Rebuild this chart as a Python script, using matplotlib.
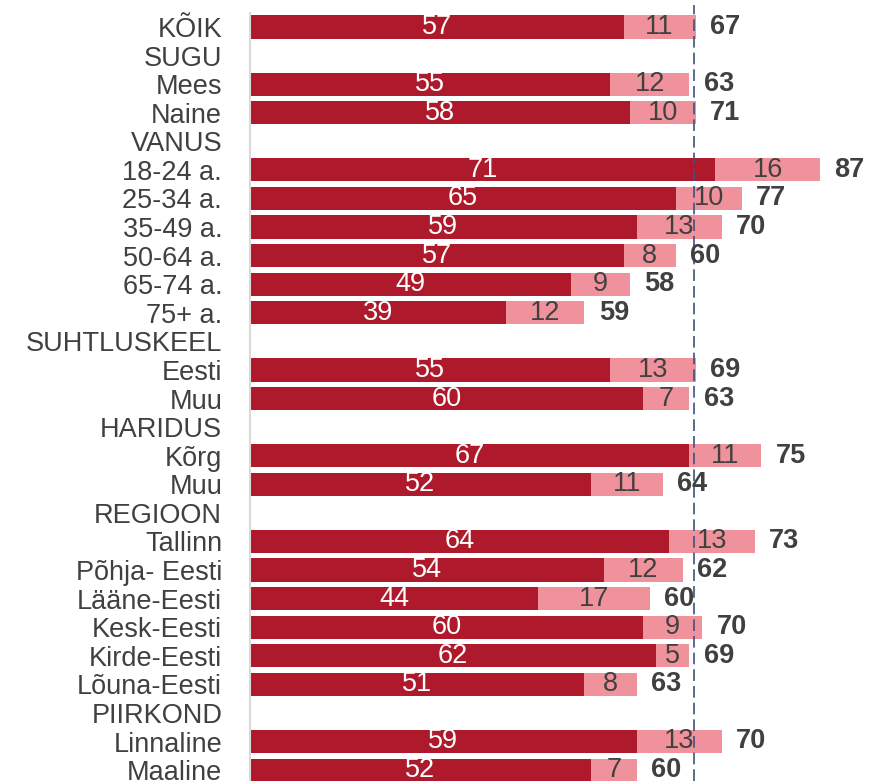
import numpy as np
import matplotlib.pyplot as plt

plt.rcParams['font.family'] = ['Liberation Sans', 'DejaVu Sans']

# ── Data ──────────────────────────────────────────────────────────────────────
labels = ['KÕIK', 'SUGU', 'Mees', 'Naine', 'VANUS', '18-24 a.', '25-34 a.',
          '35-49 a.', '50-64 a.', '65-74 a.', '75+ a.', 'SUHTLUSKEEL', 'Eesti',
          'Muu', 'HARIDUS', 'Kõrg', 'Muu', 'REGIOON', 'Tallinn', 'Põhja- Eesti',
          'Lääne-Eesti', 'Kesk-Eesti', 'Kirde-Eesti', 'Lõuna-Eesti', 'PIIRKOND',
          'Linnaline', 'Maaline']
# None = group header row (no bar)
main = [57, None, 55, 58, None, 71, 65, 59, 57, 49, 39, None, 55, 60, None,
        67, 52, None, 64, 54, 44, 60, 62, 51, None, 59, 52]
extra = [11, None, 12, 10, None, 16, 10, 13, 8, 9, 12, None, 13, 7, None,
         11, 11, None, 13, 12, 17, 9, 5, 8, None, 13, 7]
total = [67, None, 63, 71, None, 87, 77, 70, 60, 58, 59, None, 69, 63, None,
         75, 64, None, 73, 62, 60, 70, 69, 63, None, 70, 60]
reference = 67.7

dark = '#AE1A2C'
pink = '#F0929C'
grey = '#404040'
fs = 19.5

W, H = 869, 781
fig = plt.figure(figsize=(W / 100, H / 100), dpi=100)
ax = fig.add_axes([250 / W, 0, 618 / W, (H - 13) / H])

y = np.arange(len(labels))
for i in y:
    if main[i] is None:
        continue
    ax.barh(i, main[i], height=0.81, color=dark, edgecolor='none')
    ax.barh(i, extra[i], left=main[i], height=0.81, color=pink, edgecolor='none')
    ax.text(main[i] / 2, i, str(main[i]), ha='center', va='center',
            color='white', fontsize=fs)
    ax.text(main[i] + extra[i] / 2, i, str(extra[i]), ha='center', va='center',
            color=grey, fontsize=fs)
    ax.text(main[i] + extra[i] + 2.2, i, str(total[i]), ha='left', va='center',
            color=grey, fontsize=fs, fontweight='bold')

ax.axvline(reference, color='#3E5182', linestyle=(0, (7, 3)), linewidth=1.2,
           clip_on=False, ymin=0, ymax=1.01)

ax.set_xlim(0, 94.3)
ax.set_ylim((H - 27) / 28.58, -14 / 28.58)
ax.set_yticks(y)
ax.set_yticklabels(labels, fontsize=fs, color=grey)
ax.tick_params(axis='y', length=0, pad=20)
ax.set_xticks([])
for s in ['top', 'right', 'bottom']:
    ax.spines[s].set_visible(False)
ax.spines['left'].set_color('#D9D9D9')
ax.spines['left'].set_linewidth(1.5)

fig.savefig('out.png', dpi=100)
